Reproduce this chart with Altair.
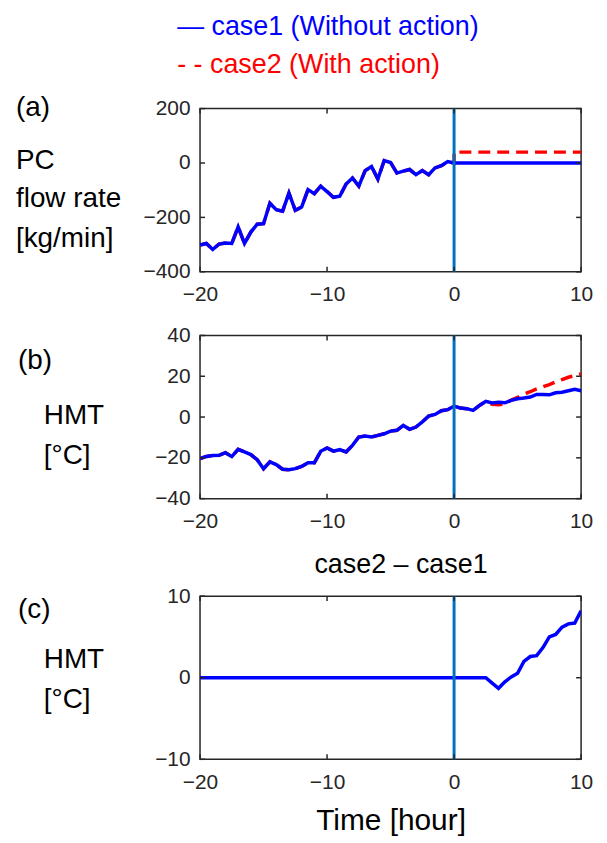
import altair as alt
import pandas as pd

# ---------------- data ----------------
time = [-20, -19.5, -19, -18.5, -18, -17.5, -17, -16.5, -16, -15.5,
        -15, -14.5, -14, -13.5, -13, -12.5, -12, -11.5, -11, -10.5,
        -10, -9.5, -9, -8.5, -8, -7.5, -7, -6.5, -6, -5.5,
        -5, -4.5, -4, -3.5, -3, -2.5, -2, -1.5, -1, -0.5,
        0, 0.5, 1, 1.5, 2, 2.5, 3, 3.5, 4, 4.5,
        5, 5.5, 6, 6.5, 7, 7.5, 8, 8.5, 9, 9.5, 10]

pc_case1 = [-302, -296, -318, -298, -294, -296, -235, -296, -254, -225,
            -223, -148, -172, -177, -111, -174, -162, -98, -113, -85,
            -105, -126, -122, -77, -55, -85, -28, -13, -59, 9,
            2, -37, -30, -24, -43, -28, -43, -18, -10, 5,
            0, 0, 0, 0, 0, 0, 0, 0, 0, 0,
            0, 0, 0, 0, 0, 0, 0, 0, 0, 0, 0]

pc_case2_time = [-20, -19.5, -19, -18.5, -18, -17.5, -17, -16.5, -16, -15.5,
                 -15, -14.5, -14, -13.5, -13, -12.5, -12, -11.5, -11, -10.5,
                 -10, -9.5, -9, -8.5, -8, -7.5, -7, -6.5, -6, -5.5,
                 -5, -4.5, -4, -3.5, -3, -2.5, -2, -1.5, -1, -0.5,
                 0, 0, 0.5, 1, 1.5, 2, 2.5, 3, 3.5, 4, 4.5,
                 5, 5.5, 6, 6.5, 7, 7.5, 8, 8.5, 9, 9.5, 10]
pc_case2 = [-302, -296, -318, -298, -294, -296, -235, -296, -254, -225,
            -223, -148, -172, -177, -111, -174, -162, -98, -113, -85,
            -105, -126, -122, -77, -55, -85, -28, -13, -59, 9,
            2, -37, -30, -24, -43, -28, -43, -18, -10, 5,
            0, 40, 40, 40, 40, 40, 40, 40, 40, 40, 40,
            40, 40, 40, 40, 40, 40, 40, 40, 40, 40, 40]

hmt_case1 = [-20.4, -19.3, -18.9, -18.8, -17.5, -19.4, -15.8, -17.1, -18.4, -20.9,
             -25.3, -22.0, -23.3, -25.6, -25.8, -25.3, -24.2, -22.4, -22.4, -16.8,
             -15.2, -16.7, -16.0, -17.1, -13.9, -9.8, -9.3, -9.8, -9.0, -8.2,
             -6.9, -6.5, -4.1, -6.0, -4.9, -2.4, 0.5, 1.3, 3.1, 3.6,
             5.4, 4.4, 4.1, 3.3, 5.7, 7.7, 6.9, 7.3, 7.0, 8.2,
             9.0, 9.3, 9.8, 11.1, 11.1, 10.9, 11.9, 12.2, 12.9, 13.6, 12.9]

hmt_case2 = [-20.4, -19.3, -18.9, -18.8, -17.5, -19.4, -15.8, -17.1, -18.4, -20.9,
             -25.3, -22.0, -23.3, -25.6, -25.8, -25.3, -24.2, -22.4, -22.4, -16.8,
             -15.2, -16.7, -16.0, -17.1, -13.9, -9.8, -9.3, -9.8, -9.0, -8.2,
             -6.9, -6.5, -4.1, -6.0, -4.9, -2.4, 0.5, 1.3, 3.1, 3.6,
             5.4, 4.4, 4.1, 3.3, 5.7, 7.7, 6.2, 6.0, 6.5, 8.3,
             9.6, 11.3, 12.4, 13.8, 14.8, 15.9, 17.2, 18.4, 19.5, 20.3, 21.1]

hmt_diff = [0, 0, 0, 0, 0, 0, 0, 0, 0, 0,
            0, 0, 0, 0, 0, 0, 0, 0, 0, 0,
            0, 0, 0, 0, 0, 0, 0, 0, 0, 0,
            0, 0, 0, 0, 0, 0, 0, 0, 0, 0,
            0, 0, 0, 0, 0, 0, -0.67, -1.3, -0.5, 0.1,
            0.55, 2.0, 2.6, 2.7, 3.7, 5.0, 5.3, 6.2, 6.6, 6.7, 8.2]

x_ticks = [-20, -10, 0, 10]
pc_ticks = [-400, -200, 0, 200]
hmt_ticks = [-40, -20, 0, 20, 40]
diff_ticks = [-10, 0, 10]

# ---------------- style ----------------
W, H = 383, 164
FONT = "Liberation Sans"
INK = "#262626"
BLUE = "#0000FF"
RED = "#FF0000"
VLINE = "#0072BD"
TICK_LEN = 5

x_scale = alt.Scale(domain=[-20, 10], nice=False, zero=False)


def frame(t, v):
    return pd.DataFrame({"t": t, "v": v, "i": list(range(len(t)))})


def text_layer(label, x, y, size=28, color="black", align="left"):
    return alt.Chart(pd.DataFrame({"k": [0]})).mark_text(
        font=FONT, fontSize=size, color=color, align=align, baseline="middle"
    ).encode(x=alt.value(x), y=alt.value(y), text=alt.value(label))


def panel(case1_df, case2_df, y_domain, y_ticks, texts, x_title=None):
    y_scale = alt.Scale(domain=y_domain, nice=False, zero=False)
    x_axis_kw = dict(values=x_ticks, ticks=False, domain=False, grid=False,
                     labelFont=FONT, labelFontSize=21, labelColor=INK,
                     labelPadding=12, labelFlush=False, labelOverlap=False)
    if x_title:
        x_axis = alt.Axis(title=x_title, titleFont=FONT, titleFontSize=30,
                          titleFontWeight="normal", titleColor="black",
                          titlePadding=14, **x_axis_kw)
    else:
        x_axis = alt.Axis(title=None, **x_axis_kw)
    y_axis = alt.Axis(values=y_ticks, ticks=False, domain=False, grid=False,
                      labelFont=FONT, labelFontSize=21, labelColor=INK,
                      labelPadding=10, title=None, labelFlush=False,
                      labelOverlap=False)

    layers = []
    if case2_df is not None:
        layers.append(alt.Chart(case2_df).mark_line(
            color=RED, strokeWidth=3.5, strokeDash=[12, 7], clip=True
        ).encode(x=alt.X("t:Q", scale=x_scale, axis=x_axis),
                 y=alt.Y("v:Q", scale=y_scale, axis=y_axis),
                 order="i:Q"))
        blue_x = alt.X("t:Q", scale=x_scale)
        blue_y = alt.Y("v:Q", scale=y_scale)
    else:
        blue_x = alt.X("t:Q", scale=x_scale, axis=x_axis)
        blue_y = alt.Y("v:Q", scale=y_scale, axis=y_axis)
    layers.append(alt.Chart(case1_df).mark_line(
        color=BLUE, strokeWidth=3.5, clip=True
    ).encode(x=blue_x, y=blue_y, order="i:Q"))

    # vertical marker at t = 0
    layers.append(alt.Chart(pd.DataFrame({"t": [0]})).mark_rule(
        color=VLINE, strokeWidth=3
    ).encode(x=alt.X("t:Q", scale=x_scale)))

    # inward ticks (box style)
    xt = pd.DataFrame({"t": x_ticks})
    yt = pd.DataFrame({"v": y_ticks})
    tick_style = dict(color=INK, strokeWidth=1.5)
    layers.append(alt.Chart(xt).mark_rule(**tick_style).encode(
        x=alt.X("t:Q", scale=x_scale), y=alt.value(0), y2=alt.value(TICK_LEN)))
    layers.append(alt.Chart(xt).mark_rule(**tick_style).encode(
        x=alt.X("t:Q", scale=x_scale), y=alt.value(H - TICK_LEN), y2=alt.value(H)))
    layers.append(alt.Chart(yt).mark_rule(**tick_style).encode(
        y=alt.Y("v:Q", scale=y_scale), x=alt.value(0), x2=alt.value(TICK_LEN)))
    layers.append(alt.Chart(yt).mark_rule(**tick_style).encode(
        y=alt.Y("v:Q", scale=y_scale), x=alt.value(W - TICK_LEN), x2=alt.value(W)))

    layers.extend(texts)
    return alt.layer(*layers).properties(width=W, height=H)


panel_a = panel(
    frame(time, pc_case1), frame(pc_case2_time, pc_case2),
    [-400, 200], pc_ticks,
    [
        text_layer("— case1 (Without action)", -23, -82, size=27, color=BLUE),
        text_layer("- - case2 (With action)", -23, -44, size=27, color=RED),
        text_layer("(a)", -185, -1),
        text_layer("PC", -185, 53),
        text_layer("flow rate", -185, 91),
        text_layer("[kg/min]", -185, 131),
    ],
)

panel_b = panel(
    frame(time, hmt_case1), frame(time, hmt_case2),
    [-40, 40], hmt_ticks,
    [
        text_layer("(b)", -183, 26),
        text_layer("HMT", -157, 81),
        text_layer("[°C]", -157, 121),
    ],
)

panel_c = panel(
    frame(time, hmt_diff), None,
    [-10, 10], diff_ticks,
    [
        text_layer("case2 – case1", 202, -31, size=27, align="center"),
        text_layer("(c)", -183, 14),
        text_layer("HMT", -157, 64),
        text_layer("[°C]", -157, 104),
    ],
    x_title="Time [hour]",
)

chart = alt.vconcat(panel_a, panel_b, panel_c, spacing=18).properties(
    padding={"left": 7, "top": 2, "right": 5, "bottom": 5},
    background="white",
).configure_view(stroke=INK, strokeWidth=1.5)

chart.save("out.html", embed_options={"renderer": "svg", "actions": False})
